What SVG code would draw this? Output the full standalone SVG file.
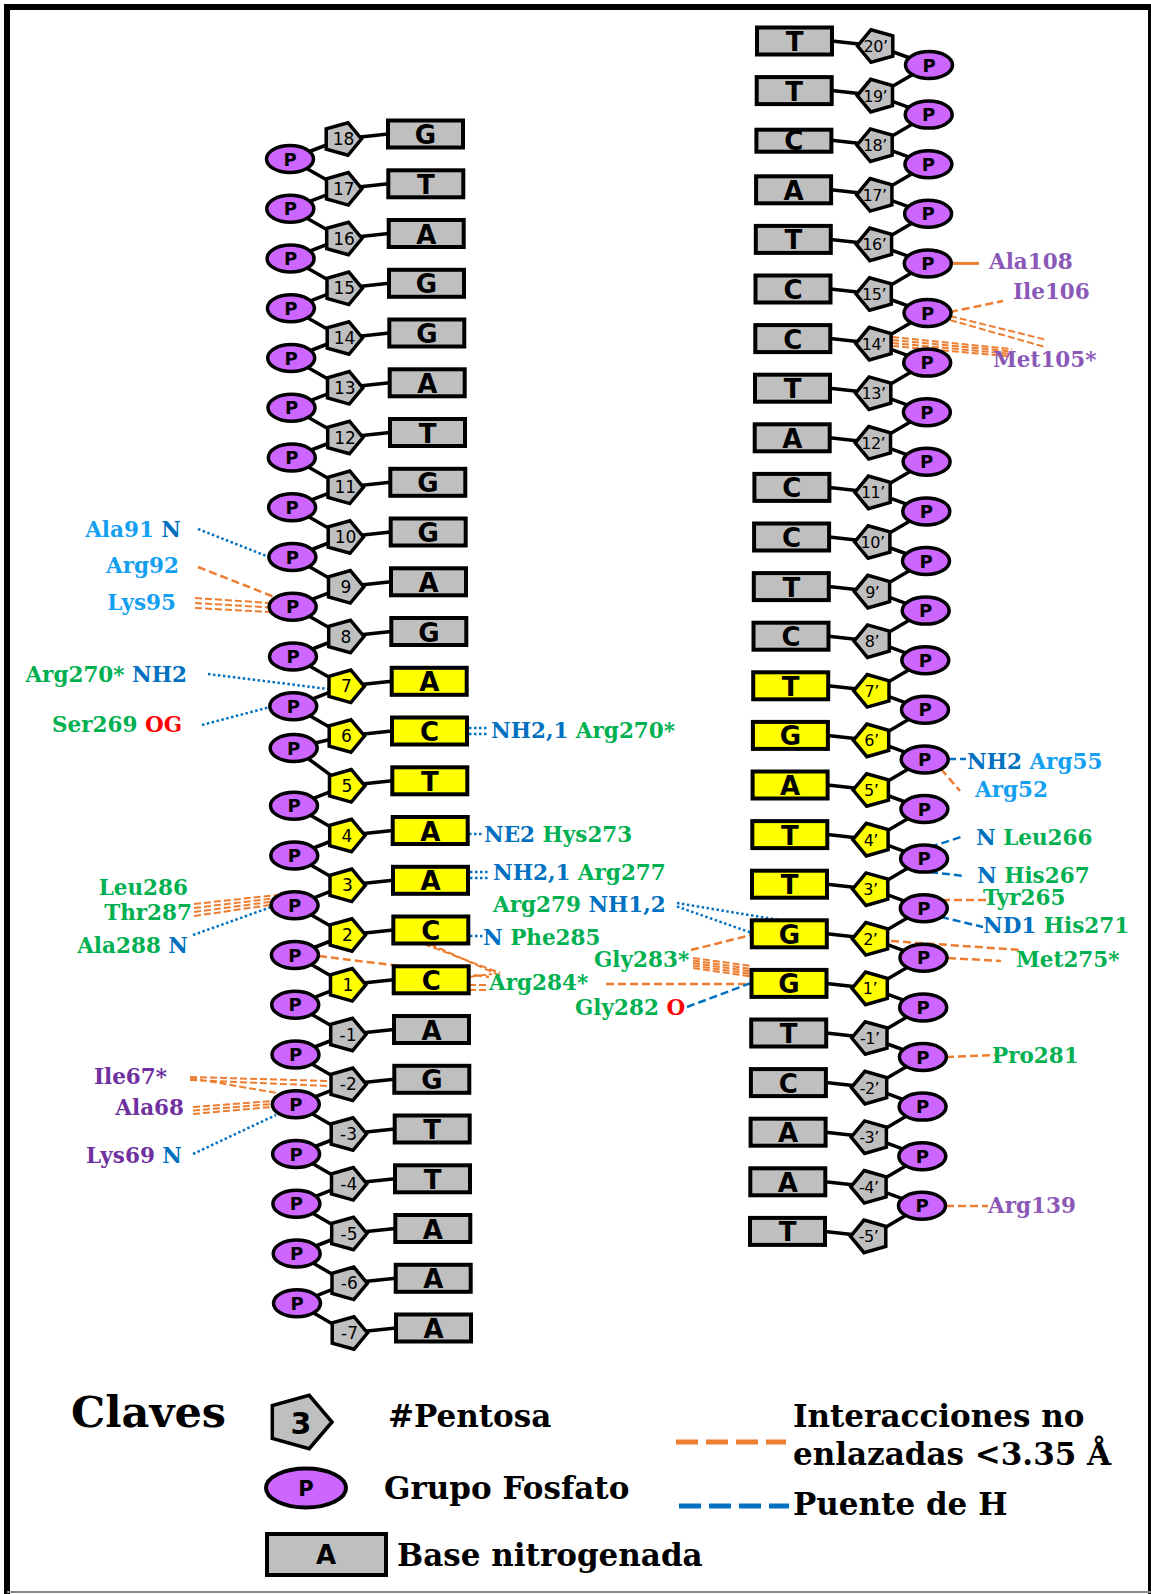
<svg xmlns="http://www.w3.org/2000/svg" xmlns:xlink="http://www.w3.org/1999/xlink" width="1151" height="1594" viewBox="0 0 1151 1594">
<style>
.bb{stroke:#000;stroke-width:3.5;fill:none;stroke-linejoin:round}
.base{stroke:#000;stroke-width:4}
.g{fill:#bfbfbf}
.y{fill:#ffff00}
.pg{stroke:#000;stroke-width:3.5}
.ph{fill:#cc66ff;stroke:#000;stroke-width:3.5}
.bt{font-family:'DejaVu Sans',sans-serif;font-weight:bold;font-size:26px;text-anchor:middle}
.nt{font-family:'DejaVu Sans',sans-serif;font-size:17px;text-anchor:middle}
.nr{font-family:'DejaVu Sans',sans-serif;font-size:16px;text-anchor:middle;letter-spacing:-0.5px}
.pt{font-family:'DejaVu Sans',sans-serif;font-weight:bold;font-size:18px;text-anchor:middle}
.lb{font-family:'DejaVu Serif',serif;font-weight:bold;font-size:21.5px}
.lg{font-family:'DejaVu Serif',serif;font-weight:bold;font-size:31px;fill:#000}
.lgt{font-family:'DejaVu Serif',serif;font-weight:bold;font-size:43px;fill:#000}
.e{text-anchor:end}
.c1{fill:#14a0f0}.c2{fill:#0070c0}.c3{fill:#00b050}.c4{fill:#ff0000}.c5{fill:#7030a0}.c6{fill:#8b58b8}
.od{stroke:#ed7d31;stroke-width:2.5;stroke-dasharray:8 4;fill:none}
.od2{stroke:#ed7d31;stroke-width:2;stroke-dasharray:7 3;fill:none}
.hd{stroke:#0070c0;stroke-width:2.5;stroke-dasharray:2.5 2.5;fill:none}
.hs{stroke:#0070c0;stroke-width:2.5;stroke-dasharray:8 4;fill:none}
</style>
<defs>
<polygon id="pl" points="19.5,0 6,16.3 -15.8,10.1 -15.8,-10.1 6,-16.3"/>
<polygon id="pr" points="-19.5,0 -6,16.3 15.8,10.1 15.8,-10.1 -6,-16.3"/>
</defs>
<rect width="1151" height="1594" fill="#fff"/>
<g id="frame" fill="none">
<path d="M7,1594 V7 H1151" stroke="#000" stroke-width="6"/>
<line x1="1149.5" y1="7" x2="1149.5" y2="1594" stroke="#000" stroke-width="3"/>
<line x1="7" y1="1592" x2="1151" y2="1592" stroke="#888" stroke-width="2"/>
</g>
<g id="connectors">
<polyline class="bb" points="342,139 290,159 342.3,188.8 290.3,208.8 342.5,238.5 290.6,258.5 342.8,288.3 290.9,308.3 343,338 291.2,358 343.3,387.8 291.5,407.8 343.5,437.5 291.8,457.5 343.8,487.3 292.1,507.3 344,537 292.4,557 344.3,586.8 292.7,606.8 344.5,636.5 293,656.5 344.8,686.3 293.3,706.3 345,736 293.7,748 345.3,785.8 294,805.8 345.5,835.5 294.3,855.5 345.8,885.3 294.6,905.3 346,935 294.9,955 346.3,984.8 295.2,1004.8 346.5,1034.5 295.5,1054.5 346.8,1084.3 295.8,1104.3 347,1134 296.1,1154 347.3,1183.8 296.4,1203.8 347.5,1233.5 296.7,1253.5 347.8,1283.3 297,1303.3 348,1333"/>
<path class="bb" d="M342,139L388,134M342.3,188.8L388.3,183.8M342.5,238.5L388.7,233.5M342.8,288.3L389,283.3M343,338L389.3,333M343.3,387.8L389.7,382.8M343.5,437.5L390,432.5M343.8,487.3L390.3,482.3M344,537L390.7,532M344.3,586.8L391,581.8M344.5,636.5L391.3,631.5M344.8,686.3L391.7,681.3M345,736L392,731M345.3,785.8L392.3,780.8M345.5,835.5L392.7,830.5M345.8,885.3L393,880.3M346,935L393.3,930M346.3,984.8L393.7,979.8M346.5,1034.5L394,1029.5M346.8,1084.3L394.3,1079.3M347,1134L394.7,1129M347.3,1183.8L395,1178.8M347.5,1233.5L395.3,1228.5M347.8,1283.3L395.7,1278.3M348,1333L396,1328"/>
<polyline class="bb" points="877,46 929,65 876.7,95.6 928.7,114.6 876.4,145.2 928.4,164.2 876.1,194.8 928.1,213.8 875.8,244.4 927.8,263.4 875.5,294 927.5,313 875.3,343.6 927.2,362.6 875,393.2 926.9,412.2 874.7,442.8 926.6,461.8 874.4,492.4 926.3,511.4 874.1,542 926,561 873.8,591.6 925.7,610.6 873.5,641.2 925.3,660.2 873.2,690.8 925,709.8 872.9,740.4 924.7,759.4 872.6,790 924.4,809 872.3,839.6 924.1,858.6 872,889.2 923.8,908.2 871.8,938.8 923.5,957.8 871.5,988.4 923.2,1007.4 871.2,1038 922.9,1057 870.9,1087.6 922.6,1106.6 870.6,1137.2 922.3,1156.2 870.3,1186.8 922,1205.8 870,1236.4"/>
<path class="bb" d="M832,41L877,46M831.7,90.6L876.7,95.6M831.4,140.2L876.4,145.2M831.1,189.8L876.1,194.8M830.8,239.4L875.8,244.4M830.5,289L875.5,294M830.3,338.6L875.3,343.6M830,388.2L875,393.2M829.7,437.8L874.7,442.8M829.4,487.4L874.4,492.4M829.1,537L874.1,542M828.8,586.6L873.8,591.6M828.5,636.2L873.5,641.2M828.2,685.8L873.2,690.8M827.9,735.4L872.9,740.4M827.6,785L872.6,790M827.3,834.6L872.3,839.6M827,884.2L872,889.2M826.8,933.8L871.8,938.8M826.5,983.4L871.5,988.4M826.2,1033L871.2,1038M825.9,1082.6L870.9,1087.6M825.6,1132.2L870.6,1137.2M825.3,1181.8L870.3,1186.8M825,1231.4L870,1236.4"/>
<g id="interactions-nb">
<path class="od" d="M198,567L277,598"/>
<path class="od2" d="M195,598L270,603M195,603L270,607.5M195,608L270,612"/>
<path class="od2" d="M194,904L277,895M194,908L277,898M194,912L277,901M194,916L277,904"/>
<path class="od2" d="M190,1077L329,1081M190,1080L329,1086M190,1078L277,1093"/>
<path class="od2" d="M193,1107L272,1101M193,1110.5L272,1104M193,1114L272,1107"/>
<path class="od" d="M319,956L489,977"/>
<path class="od2" d="M424,944L500,973M430,944L502,976.5"/>
<path class="od2" d="M469,977L492,974M469,985L489,985M469,990L489,990"/>
<path class="od" d="M606,984L751,984"/>
<path class="od" d="M691,950L751,935"/>
<path class="od2" d="M693,958L751,966M693,960.5L751,969M693,963L751,971.5M693,965.5L751,974M693,968L751,976.5"/>
<path class="od" d="M891,941L1021,950M948,958L1001,961"/>
<path class="od" d="M942,900L986,900"/>
<path class="od" d="M941,769L960,791"/>
<path class="od" d="M950,312L1003,301"/>
<path class="od2" d="M950,316L1047,340M950,320L1045,347"/>
<path class="od2" d="M892,337L1012,349M892,340L1012,351.5M892,343L1012,354M892,346L1012,356.5"/>
<path class="od" d="M946,1057L995,1055"/>
<path class="od" d="M946,1206L988,1206"/>
<path d="M951,263.4L979,263.4" stroke="#ed7d31" stroke-width="3"/>
</g>
<g id="interactions-hb">
<path class="hd" d="M198,529L269,557"/>
<path class="hd" d="M208,674L328,689"/>
<path class="hd" d="M202,725L270,707"/>
<path class="hd" d="M193,935L274,906"/>
<path class="hd" d="M193,1154L276,1115"/>
<path class="hd" d="M469,728H487M469,734H487"/>
<path class="hd" d="M469,834H484"/>
<path class="hd" d="M470,872H488M470,878H488"/>
<path class="hd" d="M677,903L785,921M677,906.5L752,933"/>
<path class="hd" d="M470,936H483"/>
<path class="hs" d="M948,759H966"/>
<path class="hs" d="M930,847L961,837"/>
<path class="hs" d="M930,872L964,876"/>
<path class="hs" d="M941,917L983,927"/>
<path class="hs" d="M687,1007L751,983"/>
</g>
</g>
<g id="strand-left">
<g id="nL18"><use href="#pl" x="342" y="139" class="g pg"/><text class="nt" x="343.5" y="145">18</text><rect class="base g" x="388" y="120.5" width="75" height="27"/><text class="bt" x="425.5" y="144">G</text></g>
<g id="nL17"><use href="#pl" x="342.3" y="188.8" class="g pg"/><text class="nt" x="343.8" y="194.8">17</text><rect class="base g" x="388.3" y="170.3" width="75" height="27"/><text class="bt" x="425.8" y="193.8">T</text></g>
<g id="nL16"><use href="#pl" x="342.5" y="238.5" class="g pg"/><text class="nt" x="344" y="244.5">16</text><rect class="base g" x="388.7" y="220" width="75" height="27"/><text class="bt" x="426.2" y="243.5">A</text></g>
<g id="nL15"><use href="#pl" x="342.8" y="288.3" class="g pg"/><text class="nt" x="344.3" y="294.3">15</text><rect class="base g" x="389" y="269.8" width="75" height="27"/><text class="bt" x="426.5" y="293.3">G</text></g>
<g id="nL14"><use href="#pl" x="343" y="338" class="g pg"/><text class="nt" x="344.5" y="344">14</text><rect class="base g" x="389.3" y="319.5" width="75" height="27"/><text class="bt" x="426.8" y="343">G</text></g>
<g id="nL13"><use href="#pl" x="343.3" y="387.8" class="g pg"/><text class="nt" x="344.8" y="393.8">13</text><rect class="base g" x="389.7" y="369.3" width="75" height="27"/><text class="bt" x="427.2" y="392.8">A</text></g>
<g id="nL12"><use href="#pl" x="343.5" y="437.5" class="g pg"/><text class="nt" x="345" y="443.5">12</text><rect class="base g" x="390" y="419" width="75" height="27"/><text class="bt" x="427.5" y="442.5">T</text></g>
<g id="nL11"><use href="#pl" x="343.8" y="487.3" class="g pg"/><text class="nt" x="345.3" y="493.3">11</text><rect class="base g" x="390.3" y="468.8" width="75" height="27"/><text class="bt" x="427.8" y="492.3">G</text></g>
<g id="nL10"><use href="#pl" x="344" y="537" class="g pg"/><text class="nt" x="345.5" y="543">10</text><rect class="base g" x="390.7" y="518.5" width="75" height="27"/><text class="bt" x="428.2" y="542">G</text></g>
<g id="nL9"><use href="#pl" x="344.3" y="586.8" class="g pg"/><text class="nt" x="345.8" y="592.8">9</text><rect class="base g" x="391" y="568.3" width="75" height="27"/><text class="bt" x="428.5" y="591.8">A</text></g>
<g id="nL8"><use href="#pl" x="344.5" y="636.5" class="g pg"/><text class="nt" x="346" y="642.5">8</text><rect class="base g" x="391.3" y="618" width="75" height="27"/><text class="bt" x="428.8" y="641.5">G</text></g>
<g id="nL7"><use href="#pl" x="344.8" y="686.3" class="y pg"/><text class="nt" x="346.3" y="692.3">7</text><rect class="base y" x="391.7" y="667.8" width="75" height="27"/><text class="bt" x="429.2" y="691.3">A</text></g>
<g id="nL6"><use href="#pl" x="345" y="736" class="y pg"/><text class="nt" x="346.5" y="742">6</text><rect class="base y" x="392" y="717.5" width="75" height="27"/><text class="bt" x="429.5" y="741">C</text></g>
<g id="nL5"><use href="#pl" x="345.3" y="785.8" class="y pg"/><text class="nt" x="346.8" y="791.8">5</text><rect class="base y" x="392.3" y="767.3" width="75" height="27"/><text class="bt" x="429.8" y="790.8">T</text></g>
<g id="nL4"><use href="#pl" x="345.5" y="835.5" class="y pg"/><text class="nt" x="347" y="841.5">4</text><rect class="base y" x="392.7" y="817" width="75" height="27"/><text class="bt" x="430.2" y="840.5">A</text></g>
<g id="nL3"><use href="#pl" x="345.8" y="885.3" class="y pg"/><text class="nt" x="347.3" y="891.3">3</text><rect class="base y" x="393" y="866.8" width="75" height="27"/><text class="bt" x="430.5" y="890.3">A</text></g>
<g id="nL2"><use href="#pl" x="346" y="935" class="y pg"/><text class="nt" x="347.5" y="941">2</text><rect class="base y" x="393.3" y="916.5" width="75" height="27"/><text class="bt" x="430.8" y="940">C</text></g>
<g id="nL1"><use href="#pl" x="346.3" y="984.8" class="y pg"/><text class="nt" x="347.8" y="990.8">1</text><rect class="base y" x="393.7" y="966.3" width="75" height="27"/><text class="bt" x="431.2" y="989.8">C</text></g>
<g id="nL-1"><use href="#pl" x="346.5" y="1034.5" class="g pg"/><text class="nt" x="348" y="1040.5">-1</text><rect class="base g" x="394" y="1016" width="75" height="27"/><text class="bt" x="431.5" y="1039.5">A</text></g>
<g id="nL-2"><use href="#pl" x="346.8" y="1084.3" class="g pg"/><text class="nt" x="348.3" y="1090.3">-2</text><rect class="base g" x="394.3" y="1065.8" width="75" height="27"/><text class="bt" x="431.8" y="1089.3">G</text></g>
<g id="nL-3"><use href="#pl" x="347" y="1134" class="g pg"/><text class="nt" x="348.5" y="1140">-3</text><rect class="base g" x="394.7" y="1115.5" width="75" height="27"/><text class="bt" x="432.2" y="1139">T</text></g>
<g id="nL-4"><use href="#pl" x="347.3" y="1183.8" class="g pg"/><text class="nt" x="348.8" y="1189.8">-4</text><rect class="base g" x="395" y="1165.3" width="75" height="27"/><text class="bt" x="432.5" y="1188.8">T</text></g>
<g id="nL-5"><use href="#pl" x="347.5" y="1233.5" class="g pg"/><text class="nt" x="349" y="1239.5">-5</text><rect class="base g" x="395.3" y="1215" width="75" height="27"/><text class="bt" x="432.8" y="1238.5">A</text></g>
<g id="nL-6"><use href="#pl" x="347.8" y="1283.3" class="g pg"/><text class="nt" x="349.3" y="1289.3">-6</text><rect class="base g" x="395.7" y="1264.8" width="75" height="27"/><text class="bt" x="433.2" y="1288.3">A</text></g>
<g id="nL-7"><use href="#pl" x="348" y="1333" class="g pg"/><text class="nt" x="349.5" y="1339">-7</text><rect class="base g" x="396" y="1314.5" width="75" height="27"/><text class="bt" x="433.5" y="1338">A</text></g>
<g id="pL18"><ellipse class="ph" cx="290" cy="159" rx="23.5" ry="13.5"/><text class="pt" x="290" y="165.5">P</text></g>
<g id="pL17"><ellipse class="ph" cx="290.3" cy="208.8" rx="23.5" ry="13.5"/><text class="pt" x="290.3" y="215.3">P</text></g>
<g id="pL16"><ellipse class="ph" cx="290.6" cy="258.5" rx="23.5" ry="13.5"/><text class="pt" x="290.6" y="265">P</text></g>
<g id="pL15"><ellipse class="ph" cx="290.9" cy="308.3" rx="23.5" ry="13.5"/><text class="pt" x="290.9" y="314.8">P</text></g>
<g id="pL14"><ellipse class="ph" cx="291.2" cy="358" rx="23.5" ry="13.5"/><text class="pt" x="291.2" y="364.5">P</text></g>
<g id="pL13"><ellipse class="ph" cx="291.5" cy="407.8" rx="23.5" ry="13.5"/><text class="pt" x="291.5" y="414.3">P</text></g>
<g id="pL12"><ellipse class="ph" cx="291.8" cy="457.5" rx="23.5" ry="13.5"/><text class="pt" x="291.8" y="464">P</text></g>
<g id="pL11"><ellipse class="ph" cx="292.1" cy="507.3" rx="23.5" ry="13.5"/><text class="pt" x="292.1" y="513.8">P</text></g>
<g id="pL10"><ellipse class="ph" cx="292.4" cy="557" rx="23.5" ry="13.5"/><text class="pt" x="292.4" y="563.5">P</text></g>
<g id="pL9"><ellipse class="ph" cx="292.7" cy="606.8" rx="23.5" ry="13.5"/><text class="pt" x="292.7" y="613.3">P</text></g>
<g id="pL8"><ellipse class="ph" cx="293" cy="656.5" rx="23.5" ry="13.5"/><text class="pt" x="293" y="663">P</text></g>
<g id="pL7"><ellipse class="ph" cx="293.3" cy="706.3" rx="23.5" ry="13.5"/><text class="pt" x="293.3" y="712.8">P</text></g>
<g id="pL6"><ellipse class="ph" cx="293.7" cy="748" rx="23.5" ry="13.5"/><text class="pt" x="293.7" y="754.5">P</text></g>
<g id="pL5"><ellipse class="ph" cx="294" cy="805.8" rx="23.5" ry="13.5"/><text class="pt" x="294" y="812.3">P</text></g>
<g id="pL4"><ellipse class="ph" cx="294.3" cy="855.5" rx="23.5" ry="13.5"/><text class="pt" x="294.3" y="862">P</text></g>
<g id="pL3"><ellipse class="ph" cx="294.6" cy="905.3" rx="23.5" ry="13.5"/><text class="pt" x="294.6" y="911.8">P</text></g>
<g id="pL2"><ellipse class="ph" cx="294.9" cy="955" rx="23.5" ry="13.5"/><text class="pt" x="294.9" y="961.5">P</text></g>
<g id="pL1"><ellipse class="ph" cx="295.2" cy="1004.8" rx="23.5" ry="13.5"/><text class="pt" x="295.2" y="1011.3">P</text></g>
<g id="pL-1"><ellipse class="ph" cx="295.5" cy="1054.5" rx="23.5" ry="13.5"/><text class="pt" x="295.5" y="1061">P</text></g>
<g id="pL-2"><ellipse class="ph" cx="295.8" cy="1104.3" rx="23.5" ry="13.5"/><text class="pt" x="295.8" y="1110.8">P</text></g>
<g id="pL-3"><ellipse class="ph" cx="296.1" cy="1154" rx="23.5" ry="13.5"/><text class="pt" x="296.1" y="1160.5">P</text></g>
<g id="pL-4"><ellipse class="ph" cx="296.4" cy="1203.8" rx="23.5" ry="13.5"/><text class="pt" x="296.4" y="1210.3">P</text></g>
<g id="pL-5"><ellipse class="ph" cx="296.7" cy="1253.5" rx="23.5" ry="13.5"/><text class="pt" x="296.7" y="1260">P</text></g>
<g id="pL-6"><ellipse class="ph" cx="297" cy="1303.3" rx="23.5" ry="13.5"/><text class="pt" x="297" y="1309.8">P</text></g>
</g>
<g id="strand-right">
<g id="nR20"><use href="#pr" x="877" y="46" class="g pg"/><text class="nr" x="875.5" y="52">20’</text><rect class="base g" x="757" y="27.5" width="75" height="27"/><text class="bt" x="794.5" y="51">T</text></g>
<g id="nR19"><use href="#pr" x="876.7" y="95.6" class="g pg"/><text class="nr" x="875.2" y="101.6">19’</text><rect class="base g" x="756.7" y="77.1" width="75" height="27"/><text class="bt" x="794.2" y="100.6">T</text></g>
<g id="nR18"><use href="#pr" x="876.4" y="145.2" class="g pg"/><text class="nr" x="874.9" y="151.2">18’</text><rect class="base g" x="756.4" y="129.7" width="75" height="22"/><text class="bt" x="793.9" y="150.2">C</text></g>
<g id="nR17"><use href="#pr" x="876.1" y="194.8" class="g pg"/><text class="nr" x="874.6" y="200.8">17’</text><rect class="base g" x="756.1" y="176.3" width="75" height="27"/><text class="bt" x="793.6" y="199.8">A</text></g>
<g id="nR16"><use href="#pr" x="875.8" y="244.4" class="g pg"/><text class="nr" x="874.3" y="250.4">16’</text><rect class="base g" x="755.8" y="225.9" width="75" height="27"/><text class="bt" x="793.3" y="249.4">T</text></g>
<g id="nR15"><use href="#pr" x="875.5" y="294" class="g pg"/><text class="nr" x="874" y="300">15’</text><rect class="base g" x="755.5" y="275.5" width="75" height="27"/><text class="bt" x="793" y="299">C</text></g>
<g id="nR14"><use href="#pr" x="875.3" y="343.6" class="g pg"/><text class="nr" x="873.8" y="349.6">14’</text><rect class="base g" x="755.3" y="325.1" width="75" height="27"/><text class="bt" x="792.8" y="348.6">C</text></g>
<g id="nR13"><use href="#pr" x="875" y="393.2" class="g pg"/><text class="nr" x="873.5" y="399.2">13’</text><rect class="base g" x="755" y="374.7" width="75" height="27"/><text class="bt" x="792.5" y="398.2">T</text></g>
<g id="nR12"><use href="#pr" x="874.7" y="442.8" class="g pg"/><text class="nr" x="873.2" y="448.8">12’</text><rect class="base g" x="754.7" y="424.3" width="75" height="27"/><text class="bt" x="792.2" y="447.8">A</text></g>
<g id="nR11"><use href="#pr" x="874.4" y="492.4" class="g pg"/><text class="nr" x="872.9" y="498.4">11’</text><rect class="base g" x="754.4" y="473.9" width="75" height="27"/><text class="bt" x="791.9" y="497.4">C</text></g>
<g id="nR10"><use href="#pr" x="874.1" y="542" class="g pg"/><text class="nr" x="872.6" y="548">10’</text><rect class="base g" x="754.1" y="523.5" width="75" height="27"/><text class="bt" x="791.6" y="547">C</text></g>
<g id="nR9"><use href="#pr" x="873.8" y="591.6" class="g pg"/><text class="nr" x="872.3" y="597.6">9’</text><rect class="base g" x="753.8" y="573.1" width="75" height="27"/><text class="bt" x="791.3" y="596.6">T</text></g>
<g id="nR8"><use href="#pr" x="873.5" y="641.2" class="g pg"/><text class="nr" x="872" y="647.2">8’</text><rect class="base g" x="753.5" y="622.7" width="75" height="27"/><text class="bt" x="791" y="646.2">C</text></g>
<g id="nR7"><use href="#pr" x="873.2" y="690.8" class="y pg"/><text class="nr" x="871.7" y="696.8">7’</text><rect class="base y" x="753.2" y="672.3" width="75" height="27"/><text class="bt" x="790.7" y="695.8">T</text></g>
<g id="nR6"><use href="#pr" x="872.9" y="740.4" class="y pg"/><text class="nr" x="871.4" y="746.4">6’</text><rect class="base y" x="752.9" y="721.9" width="75" height="27"/><text class="bt" x="790.4" y="745.4">G</text></g>
<g id="nR5"><use href="#pr" x="872.6" y="790" class="y pg"/><text class="nr" x="871.1" y="796">5’</text><rect class="base y" x="752.6" y="771.5" width="75" height="27"/><text class="bt" x="790.1" y="795">A</text></g>
<g id="nR4"><use href="#pr" x="872.3" y="839.6" class="y pg"/><text class="nr" x="870.8" y="845.6">4’</text><rect class="base y" x="752.3" y="821.1" width="75" height="27"/><text class="bt" x="789.8" y="844.6">T</text></g>
<g id="nR3"><use href="#pr" x="872" y="889.2" class="y pg"/><text class="nr" x="870.5" y="895.2">3’</text><rect class="base y" x="752" y="870.7" width="75" height="27"/><text class="bt" x="789.5" y="894.2">T</text></g>
<g id="nR2"><use href="#pr" x="871.8" y="938.8" class="y pg"/><text class="nr" x="870.3" y="944.8">2’</text><rect class="base y" x="751.8" y="920.3" width="75" height="27"/><text class="bt" x="789.3" y="943.8">G</text></g>
<g id="nR1"><use href="#pr" x="871.5" y="988.4" class="y pg"/><text class="nr" x="870" y="994.4">1’</text><rect class="base y" x="751.5" y="969.9" width="75" height="27"/><text class="bt" x="789" y="993.4">G</text></g>
<g id="nR-1"><use href="#pr" x="871.2" y="1038" class="g pg"/><text class="nr" x="869.7" y="1044">-1’</text><rect class="base g" x="751.2" y="1019.5" width="75" height="27"/><text class="bt" x="788.7" y="1043">T</text></g>
<g id="nR-2"><use href="#pr" x="870.9" y="1087.6" class="g pg"/><text class="nr" x="869.4" y="1093.6">-2’</text><rect class="base g" x="750.9" y="1069.1" width="75" height="27"/><text class="bt" x="788.4" y="1092.6">C</text></g>
<g id="nR-3"><use href="#pr" x="870.6" y="1137.2" class="g pg"/><text class="nr" x="869.1" y="1143.2">-3’</text><rect class="base g" x="750.6" y="1118.7" width="75" height="27"/><text class="bt" x="788.1" y="1142.2">A</text></g>
<g id="nR-4"><use href="#pr" x="870.3" y="1186.8" class="g pg"/><text class="nr" x="868.8" y="1192.8">-4’</text><rect class="base g" x="750.3" y="1168.3" width="75" height="27"/><text class="bt" x="787.8" y="1191.8">A</text></g>
<g id="nR-5"><use href="#pr" x="870" y="1236.4" class="g pg"/><text class="nr" x="868.5" y="1242.4">-5’</text><rect class="base g" x="750" y="1217.9" width="75" height="27"/><text class="bt" x="787.5" y="1241.4">T</text></g>
<g id="pR20"><ellipse class="ph" cx="929" cy="65" rx="23.5" ry="13.5"/><text class="pt" x="929" y="71.5">P</text></g>
<g id="pR19"><ellipse class="ph" cx="928.7" cy="114.6" rx="23.5" ry="13.5"/><text class="pt" x="928.7" y="121.1">P</text></g>
<g id="pR18"><ellipse class="ph" cx="928.4" cy="164.2" rx="23.5" ry="13.5"/><text class="pt" x="928.4" y="170.7">P</text></g>
<g id="pR17"><ellipse class="ph" cx="928.1" cy="213.8" rx="23.5" ry="13.5"/><text class="pt" x="928.1" y="220.3">P</text></g>
<g id="pR16"><ellipse class="ph" cx="927.8" cy="263.4" rx="23.5" ry="13.5"/><text class="pt" x="927.8" y="269.9">P</text></g>
<g id="pR15"><ellipse class="ph" cx="927.5" cy="313" rx="23.5" ry="13.5"/><text class="pt" x="927.5" y="319.5">P</text></g>
<g id="pR14"><ellipse class="ph" cx="927.2" cy="362.6" rx="23.5" ry="13.5"/><text class="pt" x="927.2" y="369.1">P</text></g>
<g id="pR13"><ellipse class="ph" cx="926.9" cy="412.2" rx="23.5" ry="13.5"/><text class="pt" x="926.9" y="418.7">P</text></g>
<g id="pR12"><ellipse class="ph" cx="926.6" cy="461.8" rx="23.5" ry="13.5"/><text class="pt" x="926.6" y="468.3">P</text></g>
<g id="pR11"><ellipse class="ph" cx="926.3" cy="511.4" rx="23.5" ry="13.5"/><text class="pt" x="926.3" y="517.9">P</text></g>
<g id="pR10"><ellipse class="ph" cx="926" cy="561" rx="23.5" ry="13.5"/><text class="pt" x="926" y="567.5">P</text></g>
<g id="pR9"><ellipse class="ph" cx="925.7" cy="610.6" rx="23.5" ry="13.5"/><text class="pt" x="925.7" y="617.1">P</text></g>
<g id="pR8"><ellipse class="ph" cx="925.3" cy="660.2" rx="23.5" ry="13.5"/><text class="pt" x="925.3" y="666.7">P</text></g>
<g id="pR7"><ellipse class="ph" cx="925" cy="709.8" rx="23.5" ry="13.5"/><text class="pt" x="925" y="716.3">P</text></g>
<g id="pR6"><ellipse class="ph" cx="924.7" cy="759.4" rx="23.5" ry="13.5"/><text class="pt" x="924.7" y="765.9">P</text></g>
<g id="pR5"><ellipse class="ph" cx="924.4" cy="809" rx="23.5" ry="13.5"/><text class="pt" x="924.4" y="815.5">P</text></g>
<g id="pR4"><ellipse class="ph" cx="924.1" cy="858.6" rx="23.5" ry="13.5"/><text class="pt" x="924.1" y="865.1">P</text></g>
<g id="pR3"><ellipse class="ph" cx="923.8" cy="908.2" rx="23.5" ry="13.5"/><text class="pt" x="923.8" y="914.7">P</text></g>
<g id="pR2"><ellipse class="ph" cx="923.5" cy="957.8" rx="23.5" ry="13.5"/><text class="pt" x="923.5" y="964.3">P</text></g>
<g id="pR1"><ellipse class="ph" cx="923.2" cy="1007.4" rx="23.5" ry="13.5"/><text class="pt" x="923.2" y="1013.9">P</text></g>
<g id="pR-1"><ellipse class="ph" cx="922.9" cy="1057" rx="23.5" ry="13.5"/><text class="pt" x="922.9" y="1063.5">P</text></g>
<g id="pR-2"><ellipse class="ph" cx="922.6" cy="1106.6" rx="23.5" ry="13.5"/><text class="pt" x="922.6" y="1113.1">P</text></g>
<g id="pR-3"><ellipse class="ph" cx="922.3" cy="1156.2" rx="23.5" ry="13.5"/><text class="pt" x="922.3" y="1162.7">P</text></g>
<g id="pR-4"><ellipse class="ph" cx="922" cy="1205.8" rx="23.5" ry="13.5"/><text class="pt" x="922" y="1212.3">P</text></g>
</g>
<g id="labels">
<text class="lb e" x="181" y="537"><tspan class="c1">Ala91 </tspan><tspan class="c2">N</tspan></text>
<text class="lb e c1" x="179" y="573">Arg92</text>
<text class="lb e c1" x="176" y="610">Lys95</text>
<text class="lb e" x="187" y="682"><tspan class="c3">Arg270* </tspan><tspan class="c2">NH2</tspan></text>
<text class="lb e" x="182" y="732"><tspan class="c3">Ser269 </tspan><tspan class="c4">OG</tspan></text>
<text class="lb e c3" x="188" y="895">Leu286</text>
<text class="lb e c3" x="192" y="920">Thr287</text>
<text class="lb e" x="188" y="953"><tspan class="c3">Ala288 </tspan><tspan class="c2">N</tspan></text>
<text class="lb e c5" x="167" y="1084">Ile67*</text>
<text class="lb e c5" x="184" y="1115">Ala68</text>
<text class="lb e" x="182" y="1163"><tspan class="c5">Lys69 </tspan><tspan class="c2">N</tspan></text>
<text class="lb" x="491" y="738"><tspan class="c2">NH2,1 </tspan><tspan class="c3">Arg270*</tspan></text>
<text class="lb" x="484" y="842"><tspan class="c2">NE2 </tspan><tspan class="c3">Hys273</tspan></text>
<text class="lb" x="493" y="880"><tspan class="c2">NH2,1 </tspan><tspan class="c3">Arg277</tspan></text>
<text class="lb" x="493" y="912"><tspan class="c3">Arg279 </tspan><tspan class="c2">NH1,2</tspan></text>
<text class="lb" x="483" y="945"><tspan class="c2">N </tspan><tspan class="c3">Phe285</tspan></text>
<text class="lb c3" x="489" y="990">Arg284*</text>
<text class="lb c3" x="594" y="967">Gly283*</text>
<text class="lb" x="575" y="1015"><tspan class="c3">Gly282 </tspan><tspan class="c4">O</tspan></text>
<text class="lb c6" x="989" y="269">Ala108</text>
<text class="lb c6" x="1013" y="299">Ile106</text>
<text class="lb c6" x="993" y="367">Met105*</text>
<text class="lb" x="967" y="769"><tspan class="c2">NH2 </tspan><tspan class="c1">Arg55</tspan></text>
<text class="lb c1" x="975" y="797">Arg52</text>
<text class="lb" x="976" y="845"><tspan class="c2">N </tspan><tspan class="c3">Leu266</tspan></text>
<text class="lb" x="977" y="883"><tspan class="c2">N </tspan><tspan class="c3">His267</tspan></text>
<text class="lb c3" x="983" y="905">Tyr265</text>
<text class="lb" x="983" y="933"><tspan class="c2">ND1 </tspan><tspan class="c3">His271</tspan></text>
<text class="lb c3" x="1016" y="967">Met275*</text>
<text class="lb c3" x="992" y="1063">Pro281</text>
<text class="lb c6" x="988" y="1213">Arg139</text>
</g>
<g id="legend">
<text class="lgt" x="71" y="1427">Claves</text>
<g id="key-pentosa"><polygon points="332,1422 309.2,1448.7 272.3,1438.5 272.3,1405.5 309.2,1395.3" fill="#bfbfbf" stroke="#000" stroke-width="3.5"/><text x="301" y="1434" font-family="'DejaVu Sans',sans-serif" font-weight="bold" font-size="30" text-anchor="middle">3</text></g>
<text class="lg" x="388" y="1427">#Pentosa</text>
<g id="key-fosfato"><ellipse cx="306" cy="1488" rx="40" ry="19.5" fill="#cc66ff" stroke="#000" stroke-width="4"/><text x="306" y="1496" font-family="'DejaVu Sans',sans-serif" font-weight="bold" font-size="21" text-anchor="middle">P</text></g>
<text class="lg" x="384" y="1499">Grupo Fosfato</text>
<g id="key-base"><rect x="267" y="1534" width="119" height="41" fill="#bfbfbf" stroke="#000" stroke-width="4"/><text x="326" y="1564" font-family="'DejaVu Sans',sans-serif" font-weight="bold" font-size="26" text-anchor="middle">A</text></g>
<text class="lg" x="397" y="1566">Base nitrogenada</text>
<line x1="676" y1="1442" x2="786" y2="1442" stroke="#ed7d31" stroke-width="5" stroke-dasharray="22 8"/>
<line x1="679" y1="1506" x2="789" y2="1506" stroke="#0070c0" stroke-width="5" stroke-dasharray="22 8"/>
<text class="lg" x="793" y="1427">Interacciones no</text>
<text class="lg" x="793" y="1465">enlazadas &lt;3.35 Å</text>
<text class="lg" x="793" y="1515">Puente de H</text>
</g>
</svg>
